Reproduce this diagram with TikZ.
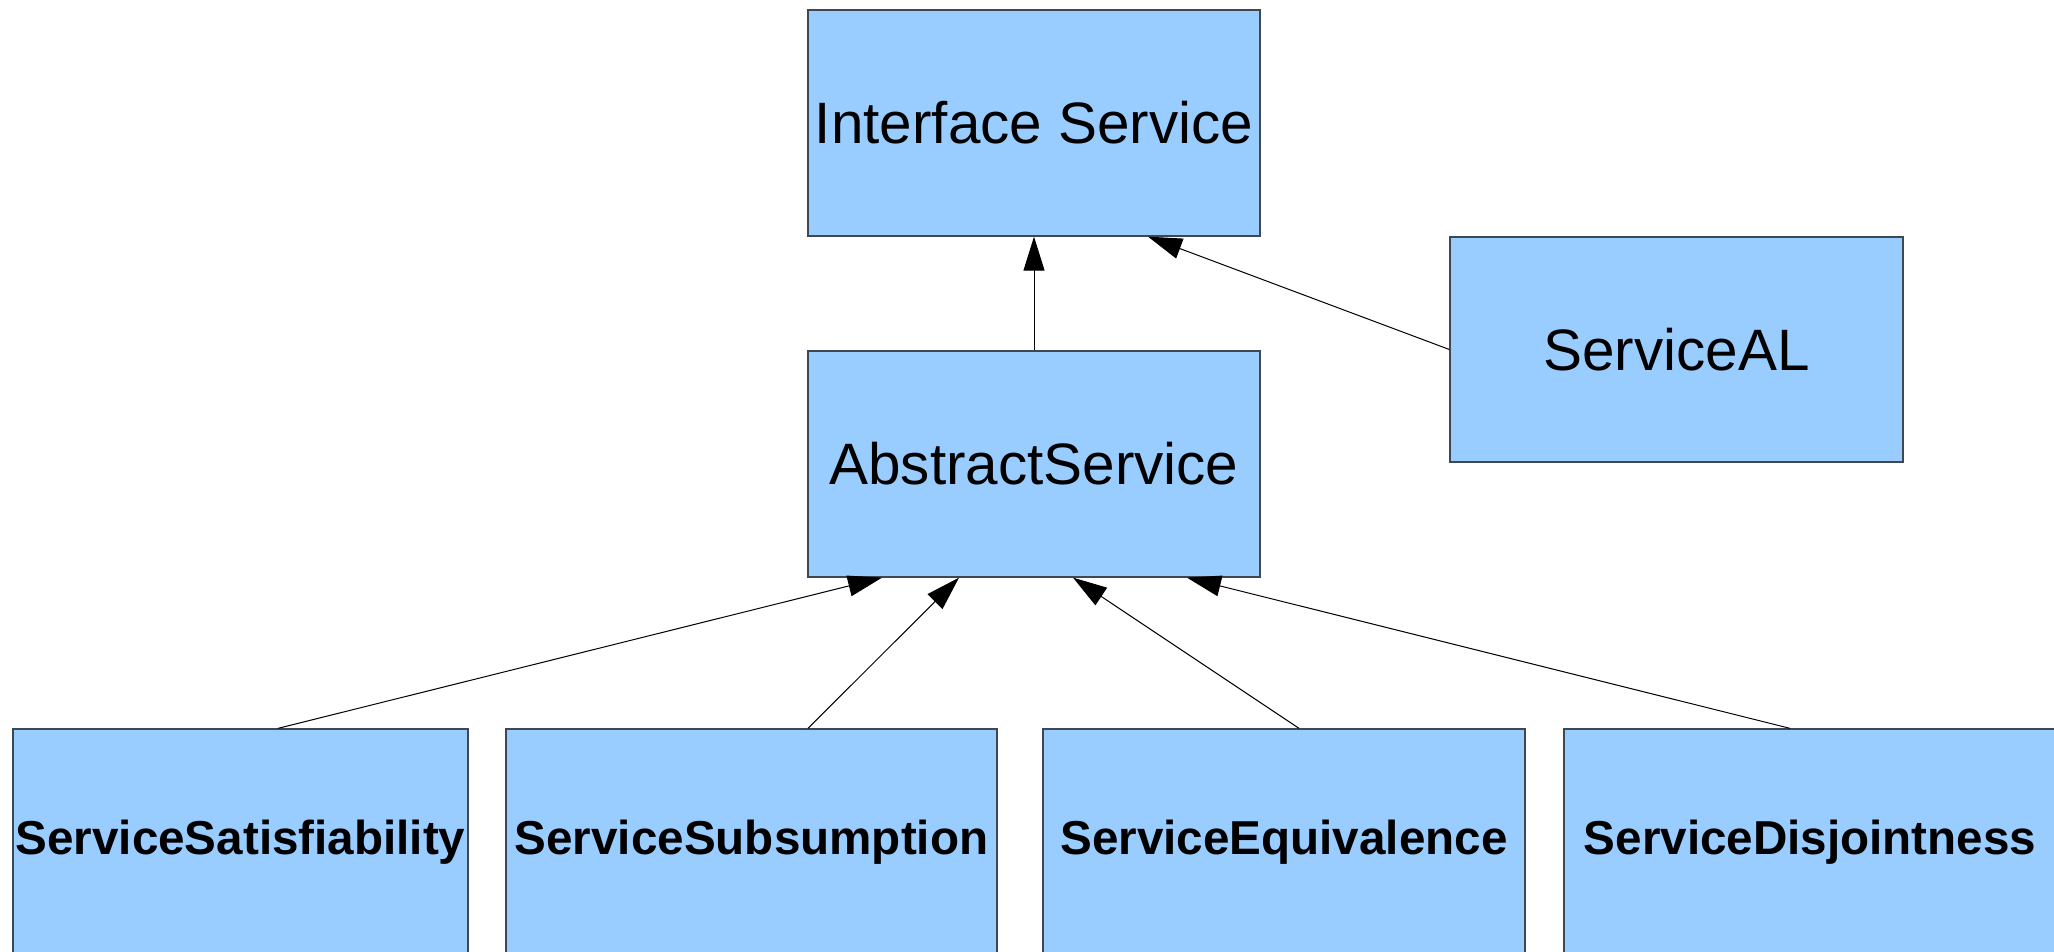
\documentclass[tikz,border=0pt]{standalone}
\usepackage{fontspec}
\setmainfont{Liberation Sans}
\usetikzlibrary{arrows.meta}
\definecolor{boxfill}{HTML}{99CCFF}
\definecolor{boxline}{HTML}{3E4852}
\tikzset{
  classbox/.style={draw=boxline, line width=0.65pt, fill=boxfill, inner sep=0pt,
    minimum height=113pt, text=black},
  toplabel/.style={font=\fontsize{29.2}{35}\selectfont},
  opbox/.style={font=\fontsize{23.8}{28}\selectfont\bfseries},
  inh/.style={draw=black, line width=0.5pt, -{Triangle[length=17pt, width=10.5pt]}}
}
\begin{document}
\begin{tikzpicture}[x=0.5pt, y=-0.5pt]
  \useasboundingbox (0,0) rectangle (2054,952);
  \clip (0,0) rectangle (2054,952);

  % class boxes
  \node[classbox, toplabel, minimum width=226pt] (iface) at (1034,123) {Interface Service};
  \node[classbox, toplabel, minimum width=226pt] (abs) at (1034,464) {AbstractService};
  \node[classbox, toplabel, minimum width=226.5pt, minimum height=112.5pt] (al) at (1676.5,349.5) {ServiceAL};

  \node[classbox, opbox, minimum width=227.5pt] (sat) at (240.5,842) {ServiceSatisfiability};
  \node[classbox, opbox, minimum width=245.5pt] (sub) at (751.5,842) {ServiceSubsumption};
  \node[classbox, opbox, minimum width=241pt] (equ) at (1284,842) {ServiceEquivalence};
  \node[classbox, opbox, minimum width=246pt] (dis) at (1810,842) {ServiceDisjointness};

  % inheritance connectors
  \draw[inh] (abs.north) -- (iface.south);
  \draw[inh] (al.west) -- ([xshift=57pt]iface.south);
  \draw[inh] ([xshift=18.75pt]sat.north) -- ([xshift=-76pt]abs.south);
  \draw[inh] ([xshift=28.25pt]sub.north) -- ([xshift=-37.5pt]abs.south);
  \draw[inh] ([xshift=7.5pt]equ.north) -- ([xshift=19.5pt]abs.south);
  \draw[inh] ([xshift=-10pt]dis.north) -- ([xshift=76.5pt]abs.south);
\end{tikzpicture}
\end{document}
